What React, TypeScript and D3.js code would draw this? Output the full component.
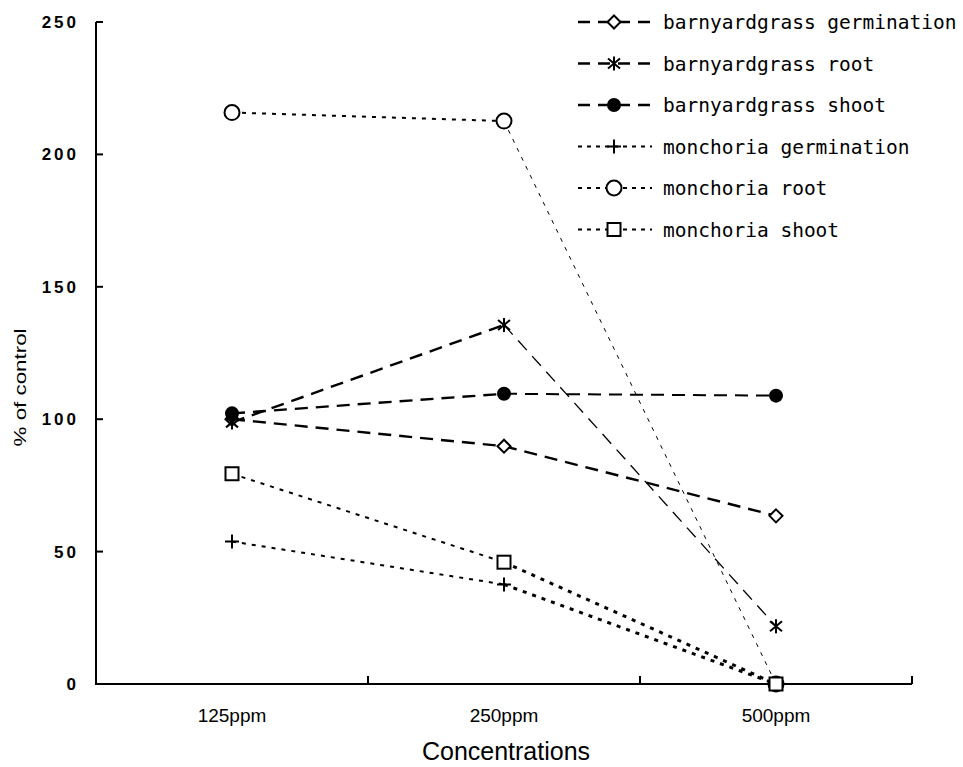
import React, { useEffect, useRef } from 'react';
import * as d3 from 'd3';

const width = 963;
const height = 767;
const padding = { left: 96, right: 51, top: 22, down: 83 };

// categories on the x axis
const concentrations = ['125ppm', '250ppm', '500ppm'];
const yTicks = [0, 50, 100, 150, 200, 250];

// series names, in legend order
const seriesNames = [
  'barnyardgrass germination',
  'barnyardgrass root',
  'barnyardgrass shoot',
  'monchoria germination',
  'monchoria root',
  'monchoria shoot',
];

// % of control, one value per concentration
const barnyardGermination = [100, 89.8, 63.5];
const barnyardRoot = [98.8, 135.6, 21.8];
const barnyardShoot = [102.2, 109.6, 108.9];
const monchoriaGermination = [53.8, 37.6, 0];
const monchoriaRoot = [215.8, 212.6, 0];
const monchoriaShoot = [79.4, 46, 0];

const seriesValues = [
  barnyardGermination,
  barnyardRoot,
  barnyardShoot,
  monchoriaGermination,
  monchoriaRoot,
  monchoriaShoot,
];

// look of each series: marker, dash pattern, segment widths
const markers = ['diamond', 'asterisk', 'dot', 'plus', 'circle', 'square'];
const dashes = ['13,8', '13,8', '13,8', '4,6', '4,6', '4,6'];
const segWidths = [
  [2.4, 2.4],
  [2.4, 1.3],
  [2.4, 2],
  [2, 3],
  [2, 1],
  [2, 3],
];

const drawMarker = (g, type, x, y) => {
  const s = 'black';
  if (type === 'diamond') {
    g.append('path')
      .attr('d', `M${x},${y - 6.5} L${x + 6.5},${y} L${x},${y + 6.5} L${x - 6.5},${y} Z`)
      .attr('fill', 'white').attr('stroke', s).attr('stroke-width', 2);
  } else if (type === 'asterisk') {
    // X with a vertical bar
    g.append('path')
      .attr('d', `M${x - 6},${y - 5} L${x + 6},${y + 5} M${x + 6},${y - 5} L${x - 6},${y + 5} M${x},${y - 7} L${x},${y + 7}`)
      .attr('stroke', s).attr('stroke-width', 2).attr('fill', 'none');
  } else if (type === 'dot') {
    g.append('circle').attr('cx', x).attr('cy', y).attr('r', 7).attr('fill', s);
  } else if (type === 'plus') {
    g.append('path')
      .attr('d', `M${x - 7},${y} L${x + 7},${y} M${x},${y - 7} L${x},${y + 7}`)
      .attr('stroke', s).attr('stroke-width', 2).attr('fill', 'none');
  } else if (type === 'circle') {
    g.append('circle').attr('cx', x).attr('cy', y).attr('r', 7.5)
      .attr('fill', 'white').attr('stroke', s).attr('stroke-width', 2);
  } else if (type === 'square') {
    g.append('rect').attr('x', x - 6.5).attr('y', y - 6.5).attr('width', 13).attr('height', 13)
      .attr('fill', 'white').attr('stroke', s).attr('stroke-width', 2);
  }
};

export default function App() {
  const ref = useRef(null);

  useEffect(() => {
    const svg = d3.select(ref.current);
    svg.selectAll('*').remove();

    const xScale = d3.scaleBand()
      .domain(concentrations)
      .range([padding.left, width - padding.right]);
    const xMid = (c) => xScale(c) + xScale.bandwidth() / 2;

    const yScale = d3.scaleLinear()
      .domain([0, 250])
      .range([height - padding.down, padding.top]);

    const x0 = padding.left;
    const x1 = width - padding.right;
    const yBase = yScale(0);

    // axes
    const axes = svg.append('g').attr('stroke', 'black').attr('stroke-width', 2).attr('fill', 'none');
    axes.append('path').attr('d', `M${x0},${yScale(250)} L${x0},${yBase} L${x1},${yBase}`);
    yTicks.forEach(t => {
      axes.append('line').attr('x1', x0).attr('x2', x0 + 7).attr('y1', yScale(t)).attr('y2', yScale(t));
    });
    concentrations.forEach(c => {
      const xr = xScale(c) + xScale.bandwidth();
      axes.append('line').attr('x1', xr).attr('x2', xr).attr('y1', yBase).attr('y2', yBase - 8);
    });

    // y tick labels
    svg.append('g').selectAll('text')
      .data(yTicks)
      .join('text')
      .attr('x', 79)
      .attr('y', d => yScale(d) + 6)
      .attr('text-anchor', 'end')
      .attr('font-family', 'Liberation Sans, Arial, sans-serif')
      .attr('font-size', 17)
      .attr('font-weight', 'bold')
      .attr('letter-spacing', 3)
      .text(d => d);

    // x tick labels
    svg.append('g').selectAll('text')
      .data(concentrations)
      .join('text')
      .attr('x', d => xMid(d))
      .attr('y', yBase + 38)
      .attr('text-anchor', 'middle')
      .attr('font-family', 'Liberation Sans Narrow, Arial Narrow, sans-serif')
      .attr('font-size', 19)
      .text(d => d);

    // axis titles
    svg.append('text')
      .attr('x', (x0 + x1) / 2 + 2)
      .attr('y', 760)
      .attr('text-anchor', 'middle')
      .attr('font-family', 'Liberation Sans Narrow, Arial Narrow, sans-serif')
      .attr('font-size', 25)
      .text('Concentrations');

    svg.append('text')
      .attr('transform', `translate(26, ${yScale(112)}) rotate(-90)`)
      .attr('text-anchor', 'middle')
      .attr('font-family', 'Liberation Sans Narrow, Arial Narrow, sans-serif')
      .attr('font-size', 17)
      .attr('textLength', 118)
      .attr('lengthAdjust', 'spacingAndGlyphs')
      .text('% of control');

    // series lines
    const line = d3.line().x(d => d[0]).y(d => d[1]);
    seriesValues.forEach((vals, i) => {
      const pts = vals.map((v, j) => [xMid(concentrations[j]), yScale(v)]);
      for (let j = 0; j < pts.length - 1; j++) {
        svg.append('path')
          .attr('d', line([pts[j], pts[j + 1]]))
          .attr('fill', 'none')
          .attr('stroke', 'black')
          .attr('stroke-width', segWidths[i][j])
          .attr('stroke-dasharray', dashes[i]);
      }
    });

    // markers
    const markerG = svg.append('g');
    seriesValues.forEach((vals, i) => {
      vals.forEach((v, j) => drawMarker(markerG, markers[i], xMid(concentrations[j]), yScale(v)));
    });

    // legend
    const legend = svg.append('g');
    seriesNames.forEach((name, i) => {
      const ly = 22 + i * 41.5;
      legend.append('line')
        .attr('x1', 578).attr('x2', 652).attr('y1', ly).attr('y2', ly)
        .attr('stroke', 'black')
        .attr('stroke-width', i < 3 ? 2.4 : 2)
        .attr('stroke-dasharray', i < 3 ? '12,8' : '4,5');
      drawMarker(legend, markers[i], 614, ly);
      legend.append('text')
        .attr('x', 663)
        .attr('y', ly + 7)
        .attr('font-family', 'DejaVu Sans Mono, monospace')
        .attr('font-size', 19.5)
        .text(name);
    });
  }, []);

  return <svg ref={ref} width={width} height={height}
    style={{ position: 'absolute', left: 0, top: 0, background: 'white' }} />;
}
